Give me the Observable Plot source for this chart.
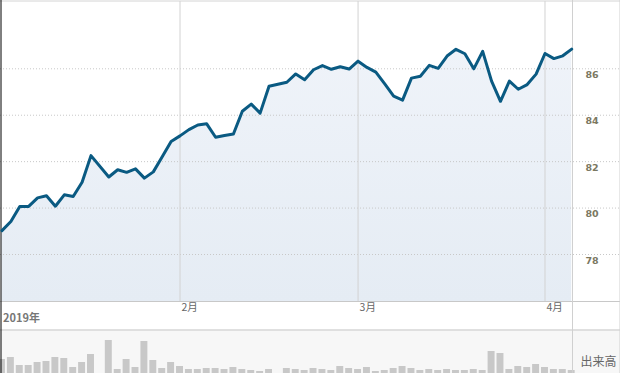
<!DOCTYPE html>
<html>
<head>
<meta charset="utf-8">
<script src="https://cdn.jsdelivr.net/npm/d3@7"></script>
<script src="https://cdn.jsdelivr.net/npm/@observablehq/plot@0.6"></script>
<style>
  html, body { margin: 0; padding: 0; background: #fff; }
  #chart svg { display: block; }
</style>
</head>
<body>
<div id="chart"></div>
<script>
// ---- data ----
const dates = [
  "2019-01-04","2019-01-07","2019-01-08","2019-01-09","2019-01-10","2019-01-11","2019-01-14","2019-01-15","2019-01-16","2019-01-17","2019-01-18","2019-01-22","2019-01-23","2019-01-24","2019-01-25","2019-01-28","2019-01-29","2019-01-30","2019-01-31",
  "2019-02-01","2019-02-04","2019-02-05","2019-02-06","2019-02-07","2019-02-08","2019-02-11","2019-02-12","2019-02-13","2019-02-14","2019-02-15","2019-02-19","2019-02-20","2019-02-21","2019-02-22","2019-02-25","2019-02-26","2019-02-27","2019-02-28",
  "2019-03-01","2019-03-04","2019-03-05","2019-03-06","2019-03-07","2019-03-08","2019-03-11","2019-03-12","2019-03-13","2019-03-14","2019-03-15","2019-03-18","2019-03-19","2019-03-20","2019-03-21","2019-03-22","2019-03-25","2019-03-26","2019-03-27","2019-03-28","2019-03-29",
  "2019-04-01","2019-04-02","2019-04-03","2019-04-04"
];
const prices = [
  79.03,79.42,80.07,80.07,80.44,80.53,80.08,80.57,80.50,81.11,82.26,81.34,81.65,81.54,81.69,81.29,81.56,82.21,82.87,
  83.11,83.38,83.58,83.63,83.05,83.13,83.19,84.17,84.48,84.09,85.25,85.42,85.78,85.53,85.96,86.14,85.98,86.09,85.99,
  86.33,86.06,85.86,85.35,84.82,84.65,85.60,85.68,86.15,86.02,86.55,86.84,86.65,86.00,86.75,85.47,84.60,85.47,85.12,85.32,85.77,
  86.66,86.44,86.56,86.85
];
const volumes = [
  14,16,8,8,11,12,16,15,6,11,19,33,4,14,6,32,13,5,11,
  7,4,4,5,5,4,6,4,3,2,4,5,4,3,5,4,3,7,5,
  4,6,2,3,5,7,5,3,4,3,4,3,3,4,3,22,20,4,7,6,9,
  6,4,4,3
];
const monthDates = ["2019-02-01","2019-03-01","2019-04-01"];
const monthLabels = ["2月","3月","4月"];
const yTicks = [78, 80, 82, 84, 86];
const yearLabel = "2019年";
const volumeLabel = "出来高";

// ---- helpers: weekday index from first date ----
const start = new Date(dates[0] + "T00:00:00Z");
function wdIndex(s) {
  const d = new Date(s + "T00:00:00Z");
  let n = 0;
  for (let t = new Date(start); t < d; t.setUTCDate(t.getUTCDate() + 1)) {
    const w = t.getUTCDay();
    if (w !== 0 && w !== 6) n++;
  }
  return n;
}
const data = dates.map((d, k) => ({date: d, i: wdIndex(d), price: prices[k], volume: volumes[k]}));
const months = monthDates.map((d, k) => ({i: wdIndex(d), label: monthLabels[k]}));

// ---- layout ----
const W = 620, H1 = 329, H2 = 44;
const mR = 48, mT = 1, mB = 28;
const innerW = W - mR;
const xDomain = [-0.165, 64.09];
const yDomain = [75.975, 88.9];
const xAtPx = p => xDomain[0] + p / innerW * (xDomain[1] - xDomain[0]);
const innerH = H1 - mT - mB;
const yAtPx = p => yDomain[1] - (p - mT) / innerH * (yDomain[1] - yDomain[0]);
const xFull = xAtPx(W);
const xRightEdge = xAtPx(W - 0.5);

const price = Plot.plot({
  width: W, height: H1,
  marginLeft: 0, marginRight: mR, marginTop: mT, marginBottom: mB,
  style: {fontFamily: "DejaVu Sans", background: "#fff", overflow: "visible"},
  x: {domain: xDomain, axis: null},
  y: {domain: yDomain, axis: null},
  marks: [
    Plot.areaY(data, {x: "i", y1: yDomain[0], y2: "price", fill: "url(#areaGrad)", curve: "linear"}),
    Plot.ruleY(yTicks, {x1: xDomain[0], x2: xFull, stroke: "#c8c8c8", strokeDasharray: "1,2"}),
    Plot.ruleX(months, {x: "i", y1: yDomain[0], y2: yDomain[1], stroke: "#d2d2d2"}),
    Plot.ruleY([yDomain[1]], {x1: xDomain[0], x2: xFull, stroke: "#d4d4d4", dy: -0.5}),
    Plot.ruleY([yDomain[0]], {x1: xDomain[0], x2: xFull, stroke: "#c8c8c8"}),
    Plot.ruleX([xDomain[1]], {y1: yAtPx(0), y2: yAtPx(H1), stroke: "#d0d0d0"}),
    Plot.ruleX([xRightEdge], {y1: yAtPx(0), y2: yAtPx(H1), stroke: "#d0d0d0"}),
    Plot.ruleX([xDomain[0]], {y1: yAtPx(0), y2: yAtPx(H1), stroke: "#000", dx: 0.5}),
    Plot.line(data, {x: "i", y: "price", stroke: "#0a5a82", strokeWidth: 3, strokeLinejoin: "round", strokeLinecap: "round"}),
    Plot.text(yTicks, {y: d => d, text: d => String(d), frameAnchor: "right", dx: 13, dy: 6, textAnchor: "start",
      fill: "#7b7862", fontWeight: "bold", fontSize: 9.5, fontFamily: "DejaVu Sans"}),
    Plot.text(months, {x: "i", text: "label", frameAnchor: "bottom", dx: 1.5, dy: 6.5, textAnchor: "start", lineAnchor: "middle",
      fill: "#666", fontSize: 10.5, fontFamily: "Noto Sans CJK JP"}),
    Plot.text([yearLabel], {text: d => d, frameAnchor: "bottom-left", dx: 2.5, dy: 17, textAnchor: "start", lineAnchor: "middle",
      fill: "#777", fontWeight: "bold", fontSize: 11, fontFamily: "Noto Sans CJK JP"})
  ]
});

d3.select(price).insert("defs", ":first-child").html(
  '<linearGradient id="areaGrad" x1="0" y1="0" x2="0" y2="1">' +
  '<stop offset="0%" stop-color="#eff3f9"/><stop offset="100%" stop-color="#e5ecf4"/></linearGradient>'
);

const volume = Plot.plot({
  width: W, height: H2,
  marginLeft: 0, marginRight: mR, marginTop: 0, marginBottom: 0,
  style: {fontFamily: "DejaVu Sans", background: "#f7f7f7", overflow: "visible"},
  x: {domain: xDomain, axis: null},
  y: {domain: [0, H2], axis: null},
  marks: [
    Plot.rectY(data, {x1: d => d.i - 0.39, x2: d => d.i + 0.39, y1: 0, y2: "volume", fill: "#c8c8c8"}),
    Plot.ruleY([H2], {x1: xDomain[0], x2: xFull, stroke: "#c8c8c8", dy: 0.5}),
    Plot.ruleX([xDomain[1]], {stroke: "#d0d0d0"}),
    Plot.ruleX([xRightEdge], {stroke: "#d0d0d0"}),
    Plot.ruleX([xDomain[0]], {stroke: "#000", dx: 0.5}),
    Plot.text([volumeLabel], {text: d => d, frameAnchor: "top-right", dx: 8, dy: 33, textAnchor: "start", lineAnchor: "middle",
      fill: "#666", fontSize: 12, fontFamily: "Noto Sans CJK JP"})
  ]
});

const chart = document.getElementById("chart");
chart.appendChild(price);
chart.appendChild(volume);
</script>
</body>
</html>
